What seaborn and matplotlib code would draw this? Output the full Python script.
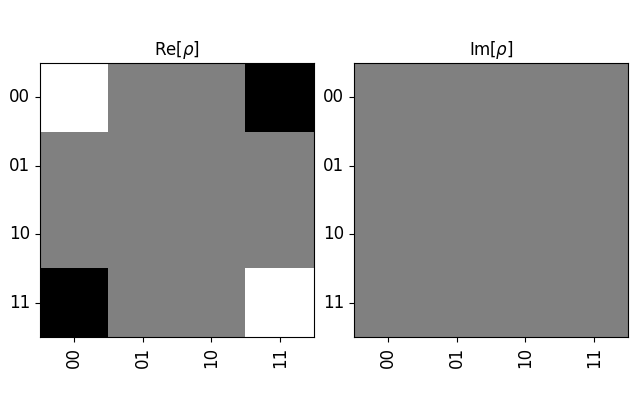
import matplotlib
matplotlib.use("Agg")
import matplotlib.pyplot as plt
import seaborn as sns
import numpy as np

# basis labels and density matrix of the Bell state (|00> - |11>)/sqrt(2)
basis = ["00", "01", "10", "11"]
rho_real = [
    [0.5, 0.0, 0.0, -0.5],
    [0.0, 0.0, 0.0, 0.0],
    [0.0, 0.0, 0.0, 0.0],
    [-0.5, 0.0, 0.0, 0.5],
]
rho_imag = [
    [0.0, 0.0, 0.0, 0.0],
    [0.0, 0.0, 0.0, 0.0],
    [0.0, 0.0, 0.0, 0.0],
    [0.0, 0.0, 0.0, 0.0],
]
titles = [r"Re[$\rho$]", r"Im[$\rho$]"]

fig, axes = plt.subplots(1, 2, figsize=(6.4, 4), dpi=100)
fig.subplots_adjust(left=0.0625, right=0.98125, top=0.8425, bottom=0.1575, wspace=0.146)

for ax, mat, title in zip(axes, [rho_real, rho_imag], titles):
    sns.heatmap(np.array(mat), ax=ax, cmap="gray", vmin=-0.5, vmax=0.5,
                cbar=False, square=True, xticklabels=basis, yticklabels=basis)
    for sp in ax.spines.values():
        sp.set_visible(True)
        sp.set_color("black")
        sp.set_linewidth(0.8)
    ax.tick_params(axis="both", labelsize=12, length=3.5, width=0.8)
    ax.set_xticklabels(basis, rotation=90)
    ax.set_yticklabels(basis, rotation=0)
    ax.set_title(title, fontsize=12)

plt.savefig("out.png", dpi=100)
plt.close()
